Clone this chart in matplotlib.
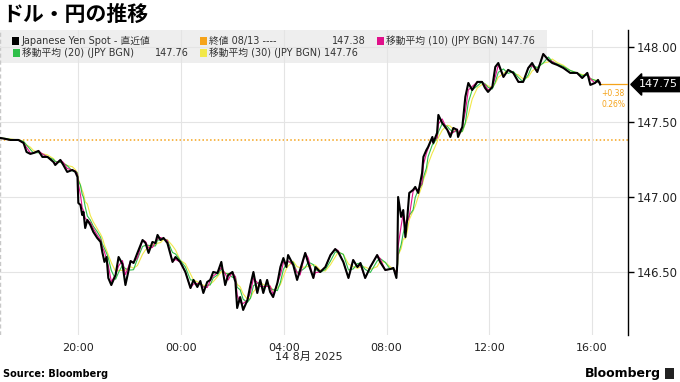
import pandas as pd
import matplotlib.pyplot as plt
import matplotlib.dates as mdates
from matplotlib.patches import Rectangle

plt.rcParams['font.family'] = ['DejaVu Sans', 'Noto Sans CJK JP']

# USD/JPY spot, 13 Aug 16:58 -> 14 Aug 16:19
times = ['16:58', '17:10', '17:21', '17:40', '17:52', '17:59', '18:08', '18:15', '18:27', '18:36',
         '18:48', '19:02', '19:06', '19:18', '19:25', '19:34', '19:46', '19:53', '19:58', '20:00',
         '20:05', '20:09', '20:12', '20:16', '20:21', '20:28', '20:35', '20:44', '20:52', '20:56',
         '21:01', '21:06', '21:10', '21:17', '21:27', '21:34', '21:43', '21:50', '22:02', '22:09',
         '22:18', '22:30', '22:37', '22:44', '22:53', '23:00', '23:05', '23:12', '23:19', '23:28',
         '23:40', '23:47', '23:58', '00:10', '00:22', '00:29', '00:38', '00:45', '00:52', '01:01',
         '01:08', '01:15', '01:25', '01:34', '01:43', '01:50', '02:00', '02:07', '02:11', '02:18',
         '02:25', '02:35', '02:42', '02:49', '02:58', '03:05', '03:12', '03:21', '03:28', '03:35',
         '03:45', '03:52', '03:59', '04:06', '04:10', '04:22', '04:31', '04:38', '04:50', '04:57',
         '05:09', '05:14', '05:25', '05:37', '05:49', '06:00', '06:07', '06:19', '06:31', '06:42',
         '06:52', '06:59', '07:10', '07:22', '07:38', '07:45', '07:57', '08:09', '08:16', '08:23',
         '08:25', '08:27', '08:34', '08:39', '08:44', '08:48', '08:53', '09:02', '09:07', '09:14',
         '09:23', '09:26', '09:33', '09:37', '09:47', '09:49', '09:58', '10:01', '10:10', '10:22',
         '10:29', '10:36', '10:45', '10:47', '10:57', '11:04', '11:11', '11:20', '11:32', '11:43',
         '11:50', '11:57', '12:07', '12:14', '12:21', '12:33', '12:44', '12:56', '13:08', '13:19',
         '13:31', '13:40', '13:52', '14:06', '14:18', '14:27', '14:39', '14:53', '15:09', '15:25',
         '15:37', '15:49', '15:56', '16:07', '16:14', '16:19']
prices = [147.393, 147.387, 147.380, 147.380, 147.360, 147.300, 147.287, 147.293, 147.307, 147.267,
          147.267, 147.233, 147.213, 147.247, 147.213, 147.167, 147.180, 147.167, 147.133, 146.960,
          146.947, 146.880, 146.900, 146.793, 146.847, 146.813, 146.767, 146.727, 146.700, 146.633,
          146.567, 146.600, 146.460, 146.413, 146.480, 146.600, 146.553, 146.413, 146.573, 146.560,
          146.627, 146.713, 146.693, 146.627, 146.700, 146.693, 146.747, 146.713, 146.727, 146.693,
          146.567, 146.600, 146.567, 146.500, 146.393, 146.447, 146.400, 146.440, 146.360, 146.433,
          146.447, 146.500, 146.493, 146.567, 146.413, 146.480, 146.500, 146.433, 146.260, 146.333,
          146.247, 146.313, 146.413, 146.500, 146.360, 146.447, 146.360, 146.447, 146.367, 146.333,
          146.427, 146.533, 146.593, 146.533, 146.613, 146.547, 146.447, 146.513, 146.627, 146.560,
          146.460, 146.533, 146.500, 146.533, 146.613, 146.653, 146.633, 146.567, 146.460, 146.580,
          146.533, 146.560, 146.460, 146.533, 146.613, 146.567, 146.513, 146.520, 146.527, 146.460,
          146.553, 147.000, 146.867, 146.913, 146.733, 146.847, 147.027, 147.047, 147.067, 147.027,
          147.160, 147.267, 147.313, 147.333, 147.400, 147.360, 147.427, 147.547, 147.493, 147.447,
          147.400, 147.460, 147.447, 147.400, 147.467, 147.667, 147.760, 147.713, 147.767, 147.767,
          147.727, 147.700, 147.733, 147.867, 147.893, 147.800, 147.847, 147.827, 147.767, 147.767,
          147.860, 147.893, 147.833, 147.953, 147.913, 147.893, 147.880, 147.860, 147.827, 147.827,
          147.793, 147.827, 147.747, 147.760, 147.780, 147.750]
prev_close = 147.38
last_price = 147.75
change = '+0.38'
change_pct = '0.26%'
ma_windows = ['10min', '20min', '30min']
y_ticks = [146.5, 147.0, 147.5, 148.0]

# build timestamps, rolling the day over at midnight
stamps = []
day = pd.Timestamp('2025-08-13')
prev_h = -1
for t in times:
    h, m = map(int, t.split(':'))
    if h < prev_h:
        day += pd.Timedelta(days=1)
    prev_h = h
    stamps.append(day + pd.Timedelta(hours=h, minutes=m))
s = pd.Series(prices, index=pd.DatetimeIndex(stamps))
ma10, ma20, ma30 = [s.rolling(w).mean() for w in ma_windows]

orange = '#f5a31a'
W, H = 680, 382
fig = plt.figure(figsize=(6.8, 3.82), dpi=100)
ax = fig.add_axes([0, 1 - 335 / H, 628 / W, (335 - 30) / H])
ax.set_facecolor('white')

x0 = pd.Timestamp('2025-08-13 16:57')
x1 = pd.Timestamp('2025-08-14 17:24')
ax.set_xlim(x0, x1)
ax.set_ylim(146.08, 148.113)

# legend background
ax.add_patch(Rectangle((0, 1 - 63 / H), 547 / W, 33 / H, transform=fig.transFigure,
                       fc='#eeeeee', ec='none', zorder=0.6, clip_on=False))

ax.grid(True, color='#e4e4e4', lw=0.8, zorder=0)
ax.axhline(prev_close, color=orange, ls=(0, (1, 1.5)), lw=1.1, zorder=1)
ax.axvline(x0 + pd.Timedelta(minutes=1), color='#c8c8c8', ls=(0, (3, 2)), lw=1, zorder=1)

ax.plot(ma30.index, ma30.values, color='#f2e84a', lw=0.8, zorder=2)
ax.plot(ma20.index, ma20.values, color='#2fbf4a', lw=0.8, zorder=3)
ax.plot(ma10.index, ma10.values, color='#e0108a', lw=0.8, zorder=4)
ax.plot(s.index, s.values, color='black', lw=1.5, zorder=5)

ax.hlines(last_price, s.index[-1], x1, color=orange, lw=0.9, zorder=4)
ax.annotate(change + '\n' + change_pct, xy=(s.index[-1], last_price), xytext=(1, -3),
            textcoords='offset points', ha='left', va='top', fontsize=5.5,
            color=orange, linespacing=1.3)

# axes styling
for sp in ['top', 'left', 'bottom']:
    ax.spines[sp].set_visible(False)
ax.spines['right'].set_color('black')
ax.spines['right'].set_linewidth(1)
ax.yaxis.tick_right()
ax.set_yticks(y_ticks)
ax.set_yticklabels([f'{v:.2f}' for v in y_ticks])
ax.tick_params(axis='y', length=4, width=1, color='black', pad=2, labelsize=8.5, labelcolor='#222222')
ax.xaxis.set_major_locator(mdates.HourLocator(byhour=[0, 4, 8, 12, 16, 20]))
ax.xaxis.set_major_formatter(mdates.DateFormatter('%H:%M'))
ax.tick_params(axis='x', length=0, pad=6, labelsize=8, labelcolor='#222222')

ax.text(1.017, last_price, f'{last_price:.2f}', transform=ax.get_yaxis_transform(),
        ha='left', va='center', fontsize=8, color='white', zorder=10,
        bbox=dict(boxstyle='larrow,pad=0.2', fc='black', ec='black'))

# title and legend rows
fig.text(2 / W, 1 - 14 / H, 'ドル・円の推移', fontsize=15, fontweight='bold',
         family=['Noto Sans CJK JP'], va='center', ha='left')

legend_rows = [
    (12, 41, 'black', 'Japanese Yen Spot - 直近値'),
    (200, 41, orange, '終値 08/13 ----'),
    (377, 41, '#e0108a', '移動平均 (10) (JPY BGN) 147.76'),
    (13, 53, '#2fbf4a', '移動平均 (20) (JPY BGN)'),
    (200, 53, '#f2e84a', '移動平均 (30) (JPY BGN) 147.76'),
]
for px, py, col, label in legend_rows:
    fig.patches.append(Rectangle((px / W, 1 - (py + 3.5) / H), 7 / W, 7 / H,
                                 transform=fig.transFigure, fc=col, ec='none', figure=fig))
    fig.text((px + 9) / W, 1 - py / H, label, fontsize=7, va='center', ha='left', color='#333333')
fig.text(366 / W, 1 - 41 / H, '147.38', fontsize=7, va='center', ha='right', color='#333333')
fig.text(189 / W, 1 - 53 / H, '147.76', fontsize=7, va='center', ha='right', color='#333333')

fig.text(309 / W, 1 - 357 / H, '14 8月 2025', fontsize=8, ha='center', va='center', color='#222222')
fig.text(3 / W, 1 - 374 / H, 'Source: Bloomberg', fontsize=7, fontweight='bold', ha='left', va='center')
fig.text(661 / W, 1 - 373 / H, 'Bloomberg', fontsize=9, fontweight='bold', ha='right', va='center')
fig.patches.append(Rectangle((665 / W, 1 - 379 / H), 9 / W, 11 / H, transform=fig.transFigure,
                             fc='#222222', ec='none', figure=fig))

fig.savefig('out.png', dpi=100)
